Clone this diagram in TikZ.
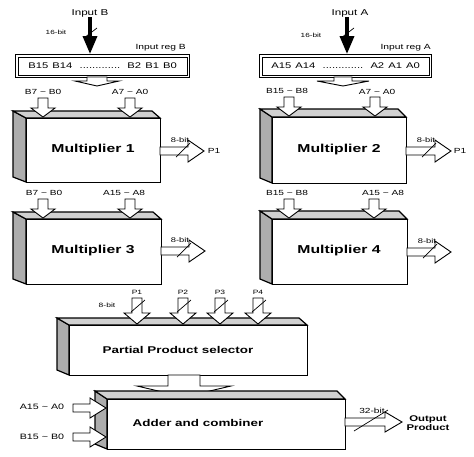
\documentclass[tikz,border=0pt]{standalone}
\usepackage{fontspec}
\setmainfont[FakeStretch=1.37]{Liberation Sans}
\usetikzlibrary{arrows.meta,calc}

\tikzset{
  harrow/.style={draw=black,line width=0.9pt,fill=white,line join=miter},
  boxline/.style={draw=black,line width=1.2pt,line join=miter},
  front/.style={boxline,fill=white,inner sep=0pt},
  sideface/.style={boxline,fill=black!32},
  topface/.style={boxline,fill=black!18},
  reg/.style={draw=black,line width=1.3pt,fill=white,inner sep=0pt},
  inarrow/.style={line width=3.6pt,-{Triangle[width=14pt,length=18pt]}},
  slash/.style={line width=0.7pt},
  lbl/.style={inner sep=0pt,font=\fontsize{7.4}{8}\selectfont},
  tiny/.style={inner sep=0pt,font=\fontsize{6.2}{7}\selectfont},
  bigtxt/.style={inner sep=0pt,font=\fontsize{11.5}{13}\selectfont\bfseries},
  midtxt/.style={inner sep=0pt,font=\fontsize{9.8}{11}\selectfont\bfseries},
}

% hollow arrow pointing down: cx, ytop, ytip, shaft half, head half, head length
\newcommand\hdn[6]{%
  \draw[harrow] (#1-#4,#2) -- (#1+#4,#2) -- (#1+#4,#3-#6) -- (#1+#5,#3-#6) -- (#1,#3)
    -- (#1-#5,#3-#6) -- (#1-#4,#3-#6) -- cycle;}
% hollow arrow pointing right: x0, xtip, cy, shaft half, head half, head length
\newcommand\hrt[6]{%
  \draw[harrow] (#1,#3-#4) -- (#2-#6,#3-#4) -- (#2-#6,#3-#5) -- (#2,#3)
    -- (#2-#6,#3+#5) -- (#2-#6,#3+#4) -- (#1,#3+#4) -- cycle;}
% 3D box: name, x0, y0, x1, y1, left/top offset x, offset y
\newcommand\tdbox[7]{%
  \draw[sideface] (#2-#6,#3-#7) -- (#2,#3) -- (#2,#5) -- (#2-#6,#5-5) -- cycle;
  \draw[topface] (#2-#6,#3-#7) -- (#4-8,#3-#7) -- (#4,#3) -- (#2,#3) -- cycle;
  \node[front,minimum width={#4-#2},minimum height={#5-#3},anchor=north west] (#1) at (#2,#3) {};}

\begin{document}
\begin{tikzpicture}[x=1pt,y=-1pt]
\useasboundingbox (0,0) rectangle (474,456);

% ---------- input registers ----------
\node[reg,minimum width=174,minimum height=23,anchor=north west] (regB) at (15,54)
  {\fontsize{8.2}{9}\selectfont B15\enspace B14\enspace\ .............\ \enspace B2\enspace B1\enspace B0};
\draw[line width=0.5pt] ($(regB.north west)+(3,3)$) rectangle ($(regB.south east)+(-3,-3)$);
\node[reg,minimum width=172,minimum height=23,anchor=north west] (regA) at (259,54)
  {\fontsize{8.2}{9}\selectfont A15\enspace A14\enspace\ .............\ \enspace A2\enspace A1\enspace A0};
\draw[line width=0.5pt] ($(regA.north west)+(3,3)$) rectangle ($(regA.south east)+(-3,-3)$);
\node[inner sep=0pt,font=\fontsize{7.5}{8}\selectfont,anchor=south east] (regBl) at (186,51) {Input reg B};
\node[inner sep=0pt,font=\fontsize{7.5}{8}\selectfont,anchor=south east] (regAl) at (431,51) {Input reg A};

\node[inner sep=0pt,font=\fontsize{8.5}{9}\selectfont] (inB) at (90,13) {Input B};
\node[inner sep=0pt,font=\fontsize{8.5}{9}\selectfont] (inA) at (350,13) {Input A};
\draw[inarrow] (inB.south) -- (inB.south |- regB.north);
\draw[inarrow] (inA.south -| 347,0) -- (347,0 |- regA.north);
\draw[slash] (84,38) -- (97,28);
\draw[slash] (341,38) -- (354,28);
\node[inner sep=0pt,font=\fontsize{6}{7}\selectfont] (bwB) at (56,32) {16-bit};
\node[inner sep=0pt,font=\fontsize{6}{7}\selectfont] (bwA) at (311,35) {16-bit};

\hdn{97}{77}{86}{10}{22}{5}
\hdn{343}{77}{86}{9}{26}{5}

% ---------- multipliers ----------
\tdbox{m1}{26}{118}{160}{182}{13}{7}
\node[bigtxt] (m1t) at (93,150) {Multiplier 1};
\tdbox{m2}{272}{117}{406}{183}{12}{8}
\node[bigtxt] (m2t) at (339,150) {Multiplier 2};
\tdbox{m3}{26}{219}{161}{284}{13}{7}
\node[bigtxt] (m3t) at (93,251) {Multiplier 3};
\tdbox{m4}{272}{219}{407}{284}{12}{8}
\node[bigtxt] (m4t) at (339,251) {Multiplier 4};

% inputs to multipliers
\node[lbl] (l11) at (43,92) {B7 \textasciitilde{} B0};
\node[lbl] (l12) at (130,92) {A7 \textasciitilde{} A0};
\hdn{43}{98}{117}{5}{12}{9}
\hdn{130}{98}{117}{5}{12}{9}
\node[lbl] (l21) at (287,91) {B15 \textasciitilde{} B8};
\node[lbl] (l22) at (377,92) {A7 \textasciitilde{} A0};
\hdn{289}{97}{116}{5}{12}{9}
\hdn{375}{97}{116}{5}{12}{9}
\node[lbl] (l31) at (44,193) {B7 \textasciitilde{} B0};
\node[lbl] (l32) at (124,193) {A15 \textasciitilde{} A8};
\hdn{43}{199}{218}{5}{12}{9}
\hdn{130}{199}{218}{5}{12}{9}
\node[lbl] (l41) at (287,193) {B15 \textasciitilde{} B8};
\node[lbl] (l42) at (383,193) {A15 \textasciitilde{} A8};
\hdn{289}{199}{218}{5}{12}{9}
\hdn{374}{199}{218}{5}{12}{9}

% outputs of multipliers
\hrt{160}{204}{151}{4}{11}{16}
\draw[slash] (176,157) -- (190,143);
\node[tiny,font=\fontsize{6.8}{7}\selectfont] (o1) at (180,140) {8-bit};
\node[lbl] (p1a) at (214,151) {P1};
\hrt{406}{451}{151}{4}{11}{16}
\draw[slash] (422,157) -- (436,143);
\node[tiny,font=\fontsize{6.8}{7}\selectfont] (o2) at (426,140) {8-bit};
\node[lbl] (p1b) at (460,151) {P1};
\hrt{161}{205}{251}{4}{11}{16}
\draw[slash] (177,257) -- (191,243);
\node[tiny,font=\fontsize{6.8}{7}\selectfont] (o3) at (180,240) {8-bit};
\hrt{407}{451}{252}{4}{11}{16}
\draw[slash] (423,258) -- (437,244);
\node[tiny,font=\fontsize{6.8}{7}\selectfont] (o4) at (427,241) {8-bit};

% ---------- partial product selector ----------
\tdbox{pps}{69}{325}{307}{375}{12}{7}
\node[midtxt] (ppst) at (178,350) {Partial Product selector};
\foreach \px/\pn in {137/P1,183/P2,220/P3,258/P4}{
  \hdn{\px}{298}{324}{5}{13}{11}
  \draw[slash] (\px-6,312) -- (\px+8,300);
  \node[tiny] (lab\pn) at (\px,292) {\pn};
}
\node[tiny] (ppbw) at (107,305) {8-bit};

\hdn{184}{375}{397}{16}{47}{11}

% ---------- adder and combiner ----------
\tdbox{add}{107}{399}{345}{449}{12}{8}
\node[midtxt] (addt) at (198,423) {Adder and combiner};
\hrt{73}{106}{408}{4}{10}{16}
\hrt{73}{106}{437}{4}{10}{16}
\node[lbl,font=\fontsize{7.8}{8}\selectfont] (la) at (42,407) {A15 \textasciitilde{} A0};
\node[lbl,font=\fontsize{7.8}{8}\selectfont] (lb) at (42,437) {B15 \textasciitilde{} B0};
\hrt{345}{402}{422}{4}{10}{17}
\draw[slash] (354,431) -- (388,410);
\node[lbl] (obw) at (372,411) {32-bit};
\node[inner sep=0pt,align=center,font=\fontsize{8.3}{9.5}\selectfont\bfseries] (outp) at (428,423) {Output\\Product};
\end{tikzpicture}
\end{document}
